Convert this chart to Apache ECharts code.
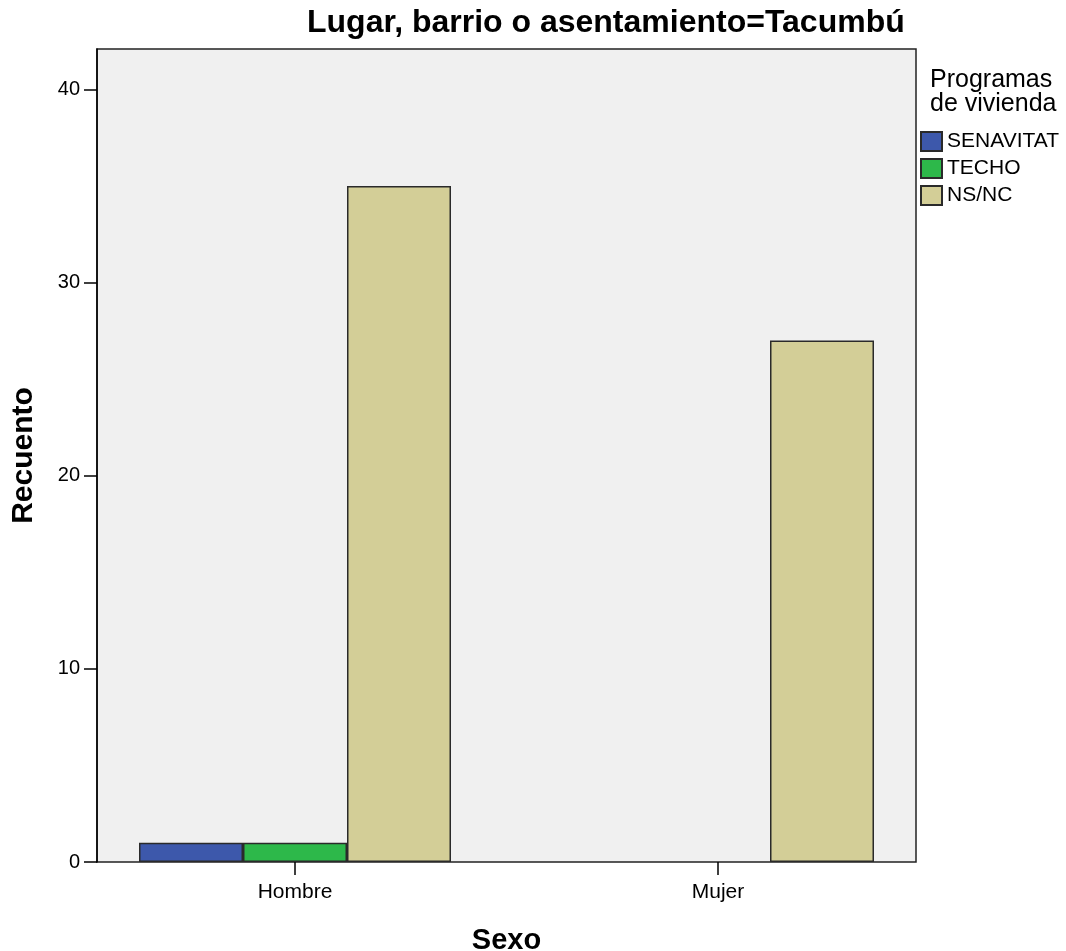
<!DOCTYPE html>
<html>
<head>
<meta charset="utf-8">
<script src="https://cdn.jsdelivr.net/npm/echarts@6/dist/echarts.min.js"></script>
<style>
  html, body { margin: 0; padding: 0; background: #fff; }
  #chart { width: 1066px; height: 951px; }
</style>
</head>
<body>
<div id="chart"></div>
<script>
// datos
const categorias = ['Hombre', 'Mujer']
const programas = ['SENAVITAT', 'TECHO', 'NS/NC']
const senavitat = [1, 0]
const techo = [1, 0]
const nsnc = [35, 27]
const colores = ['#3d58ab', '#2db84a', '#d3ce97']

const valores = [senavitat, techo, nsnc]
const fuente = '"Liberation Sans", Arial, sans-serif'

const chart = echarts.init(document.getElementById('chart'))
chart.setOption({
  animation: false,
  textStyle: { fontFamily: fuente },
  title: {
    text: 'Lugar, barrio o asentamiento=Tacumbú',
    left: 307,
    top: 7,
    padding: 0,
    textStyle: { fontSize: 32, fontWeight: 'bold', color: '#000', fontFamily: fuente }
  },
  graphic: [{
    type: 'text',
    left: 930,
    top: 68,
    style: {
      text: 'Programas\nde vivienda',
      fontSize: 25,
      lineHeight: 24,
      fill: '#000',
      fontFamily: fuente
    }
  }],
  legend: {
    orient: 'vertical',
    left: 920,
    top: 131,
    padding: 0,
    icon: 'rect',
    itemWidth: 21,
    itemHeight: 19,
    itemGap: 6, // separación entre leyendas
    textStyle: { fontSize: 21, color: '#000', fontFamily: fuente },
    data: programas
  },
  grid: [
    // caja de fondo
    { left: 97, top: 49, width: 819, height: 813, show: true, backgroundColor: '#f0f0f0', borderColor: '#222', borderWidth: 1.5, outerBoundsMode: 'none' },
    // barras
    { left: 83.5, top: 49, width: 846, height: 813, outerBoundsMode: 'none' }
  ],
  xAxis: [
    { gridIndex: 0, type: 'category', data: categorias, show: false },
    {
      gridIndex: 1,
      type: 'category',
      data: categorias,
      boundaryGap: true,
      axisLine: { show: false },
      axisTick: { show: true, alignWithLabel: true, length: 13, lineStyle: { color: '#000', width: 1.5 } },
      axisLabel: { fontSize: 21, color: '#000', margin: 20 },
      name: 'Sexo',
      nameLocation: 'middle',
      nameGap: 64,
      nameTextStyle: { fontSize: 29, fontWeight: 'bold', color: '#000' }
    }
  ],
  yAxis: [
    {
      gridIndex: 0,
      type: 'value',
      min: 0,
      max: 42.1,
      interval: 10,
      splitLine: { show: false },
      axisLine: { show: true, lineStyle: { color: '#000', width: 1.5 } },
      axisTick: { show: true, length: 13, lineStyle: { color: '#000', width: 1.5 } },
      axisLabel: { fontSize: 20, color: '#000', margin: 17, showMaxLabel: false },
      name: 'Recuento',
      nameLocation: 'middle',
      nameGap: 58,
      nameRotate: 90,
      nameTextStyle: { fontSize: 30, fontWeight: 'bold', color: '#000' }
    },
    { gridIndex: 1, type: 'value', min: 0, max: 42.1, show: false }
  ],
  series: programas.map((p, i) => ({
    name: p,
    type: 'bar',
    xAxisIndex: 1,
    yAxisIndex: 1,
    // los ceros no se dibujan
    data: valores[i].map(v => (v === 0 ? '-' : v)),
    barWidth: 104,
    barGap: '0%',
    itemStyle: { color: colores[i], borderColor: '#2a2a2a', borderWidth: 1.5 }
  }))
})
</script>
</body>
</html>
